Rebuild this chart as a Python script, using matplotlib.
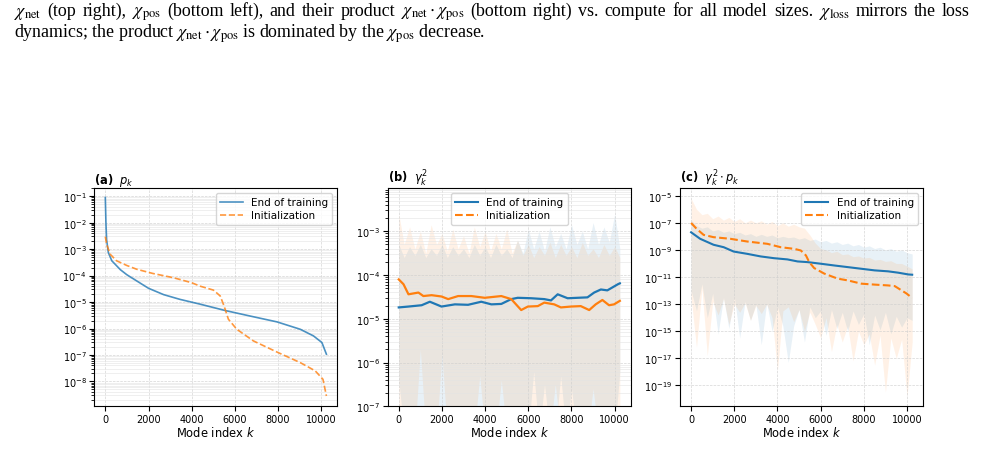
import numpy as np
import matplotlib

matplotlib.use("Agg")

import matplotlib.pyplot as plt
from matplotlib.lines import Line2D

# ---- panel (a): p_k  (log10 values)
a_train_k = [0, 30, 60, 140, 300, 700, 1000, 1450, 2000, 2700, 3460, 4390, 5550, 6710, 7950, 9030, 9640, 10030, 10239]
a_train_log = [-1.05, -2.05, -2.65, -3.13, -3.44, -3.78, -3.97, -4.20, -4.48, -4.72, -4.90, -5.08, -5.32, -5.53, -5.75, -6.03, -6.28, -6.53, -6.97]
a_init_k = [0, 60, 220, 520, 1000, 1450, 2200, 3150, 4000, 4390, 5010, 5320, 5500, 5700, 6090, 6860, 7950, 9030, 9720, 10080, 10239]
a_init_log = [-2.53, -2.81, -3.19, -3.44, -3.62, -3.76, -3.92, -4.08, -4.27, -4.40, -4.55, -4.77, -5.15, -5.65, -6.03, -6.47, -6.89, -7.29, -7.60, -7.92, -8.55]

# sample positions used for the shaded bands of (b) and (c)
band_k = list(range(0, 10001, 250)) + [10239]

# ---- panel (b): gamma_k^2
b_train_k = [0, 450, 1060, 1440, 1980, 2600, 3210, 3820, 4290, 4750, 5210, 5510, 6130, 6740, 7050, 7360, 7820, 8280, 8740, 9050, 9360, 9660, 10150, 10239]
b_train_log = [-4.74, -4.72, -4.69, -4.61, -4.72, -4.67, -4.68, -4.61, -4.67, -4.66, -4.55, -4.52, -4.53, -4.55, -4.58, -4.44, -4.53, -4.52, -4.51, -4.40, -4.33, -4.35, -4.21, -4.19]
b_init_k = [0, 220, 450, 680, 910, 1140, 1520, 1980, 2290, 2750, 3360, 3980, 4750, 5210, 5670, 5980, 6440, 6740, 7200, 7510, 7970, 8430, 8820, 9120, 9430, 9740, 9970, 10239]
b_init_log = [-4.10, -4.21, -4.44, -4.42, -4.40, -4.48, -4.46, -4.49, -4.55, -4.48, -4.48, -4.52, -4.48, -4.55, -4.80, -4.72, -4.71, -4.63, -4.67, -4.74, -4.72, -4.71, -4.80, -4.67, -4.57, -4.69, -4.67, -4.59]

b_train_hi = [-3.30, -3.60, -3.35, -3.55, -3.30, -3.60, -3.40, -3.55, -3.30, -3.60,
              -3.35, -3.55, -3.40, -3.60, -3.30, -3.55, -3.35, -3.60, -3.30, -3.55,
              -3.40, -3.60, -3.20, -3.50, -2.95, -3.40, -3.00, -3.45, -2.90, -3.35,
              -3.05, -3.40, -2.85, -3.30, -3.00, -3.40, -2.80, -3.30, -2.90, -3.25,
              -2.60, -3.40]
b_train_lo = [-6.40, -7.60, -7.60, -7.60, -7.60, -7.60, -7.60, -7.60, -7.60, -7.60,
              -7.60, -7.60, -7.60, -7.60, -7.60, -7.60, -7.60, -7.60, -7.60, -7.60,
              -7.60, -7.60, -7.60, -7.60, -7.60, -6.20, -7.60, -6.50, -7.60, -7.60,
              -6.30, -7.60, -6.60, -7.60, -7.60, -7.60, -7.60, -7.60, -7.60, -7.60,
              -7.60, -6.20]
b_init_hi = [-2.60, -3.30, -2.90, -3.40, -3.00, -3.50, -2.85, -3.30, -3.05, -3.45,
             -2.95, -3.40, -3.10, -3.50, -2.90, -3.35, -3.00, -3.45, -3.05, -3.40,
             -2.95, -3.50, -3.20, -3.55, -3.30, -3.60, -3.35, -3.55, -3.25, -3.60,
             -3.30, -3.55, -3.35, -3.60, -3.25, -3.55, -3.40, -3.60, -3.30, -3.55,
             -3.35, -3.60]
b_init_lo = [-7.60, -7.60, -7.60, -7.60, -5.70, -7.60, -7.60, -7.60, -5.80, -7.60,
             -7.60, -7.60, -7.60, -7.60, -7.60, -6.30, -7.60, -7.60, -7.60, -6.40,
             -7.60, -7.60, -7.60, -7.60, -7.60, -7.60, -7.60, -7.60, -7.60, -6.50,
             -7.60, -7.60, -7.60, -7.60, -7.60, -7.60, -6.60, -7.60, -7.60, -7.60,
             -7.60, -7.60]

# ---- panel (c): gamma_k^2 * p_k
c_train_k = [0, 420, 1040, 1510, 1970, 2600, 3220, 3840, 4460, 4930, 5390, 6010, 6640, 7260, 7880, 8500, 9120, 9590, 10060, 10239]
c_train_log = [-7.70, -8.18, -8.62, -8.80, -9.12, -9.29, -9.48, -9.61, -9.70, -9.85, -9.90, -10.02, -10.15, -10.27, -10.39, -10.51, -10.58, -10.68, -10.81, -10.83]
c_init_k = [0, 260, 580, 1040, 1820, 2600, 3530, 4150, 4770, 5080, 5320, 5470, 5700, 6170, 6790, 7260, 7880, 8500, 9120, 9430, 9740, 9980, 10239]
c_init_log = [-7.01, -7.45, -7.89, -8.06, -8.18, -8.38, -8.55, -8.80, -8.92, -9.04, -9.41, -9.90, -10.34, -10.75, -11.12, -11.25, -11.49, -11.56, -11.62, -11.67, -11.98, -12.22, -12.55]

c_train_hi = [-6.80, -7.20, -7.40, -7.30, -7.60, -7.50, -7.70, -7.60, -7.80, -7.70,
              -7.90, -7.80, -8.00, -7.85, -8.00, -7.90, -8.10, -8.00, -8.10, -8.05,
              -8.20, -8.10, -8.30, -8.20, -8.40, -8.30, -8.50, -8.40, -8.60, -8.50,
              -8.70, -8.60, -8.80, -8.70, -8.90, -8.80, -9.00, -8.90, -9.10, -9.00,
              -9.20, -9.30]
c_train_lo = [-12.0, -13.5, -11.5, -14.0, -12.2, -15.2, -12.5, -14.8, -12.4, -15.5,
              -12.8, -14.2, -13.0, -16.0, -12.9, -15.0, -13.2, -14.6, -17.3, -14.6,
              -13.4, -15.8, -13.2, -14.0, -13.5, -15.3, -13.4, -14.8, -13.6, -15.0,
              -13.5, -14.5, -13.7, -16.0, -13.8, -14.9, -13.6, -15.2, -13.9, -14.7,
              -14.0, -14.2]
c_init_hi = [-5.20, -6.00, -6.40, -6.30, -6.70, -6.50, -6.80, -6.60, -6.90, -6.70,
             -7.00, -6.80, -7.00, -6.85, -7.10, -6.90, -7.20, -7.00, -7.25, -7.10,
             -7.30, -7.40, -7.90, -8.50, -8.90, -9.00, -9.20, -9.10, -9.35, -9.30,
             -9.50, -9.45, -9.60, -9.55, -9.75, -9.70, -9.85, -9.80, -10.0, -10.0,
             -10.2, -10.4]
c_init_lo = [-12.5, -16.2, -11.8, -16.8, -12.8, -13.8, -12.6, -14.5, -13.0, -13.6,
             -12.9, -14.2, -13.1, -13.7, -13.0, -14.0, -17.9, -13.5, -13.2, -14.3,
             -13.4, -15.0, -13.6, -14.5, -15.5, -14.0, -16.5, -14.5, -15.8, -14.6,
             -17.2, -15.0, -16.0, -15.2, -17.5, -15.3, -19.5, -15.5, -17.0, -15.6,
             -19.8, -15.8]

caption = [r"$\chi_\mathrm{net}$ (top right), $\chi_\mathrm{pos}$ (bottom left), and their product $\chi_\mathrm{net}\cdot\chi_\mathrm{pos}$ (bottom right) vs. compute for all model sizes. $\chi_\mathrm{loss}$ mirrors the loss",
           r"dynamics; the product $\chi_\mathrm{net}\cdot\chi_\mathrm{pos}$ is dominated by the $\chi_\mathrm{pos}$ decrease."]

C0, C1 = "#1f77b4", "#ff7f0e"
xticks = [0, 2000, 4000, 6000, 8000, 10000]


def pw(v):
    return 10.0 ** np.asarray(v)


def style(ax, title):
    ax.set_yscale("log")
    ax.set_xlim(-512, 10751)
    ax.set_xticks(xticks)
    ax.set_xlabel("Mode index $k$", fontsize=8.3, labelpad=1)
    ax.tick_params(labelsize=7, pad=2)
    ax.set_title(title, loc="left", fontsize=8.3, pad=3)
    ax.grid(True, which="major", ls="--", lw=0.5, color="#cccccc", alpha=0.8)


fig = plt.figure(figsize=(9.85, 4.64), dpi=100)
W, H = 985.0, 464.0
cap_kw = dict(fontsize=12.9, family="Liberation Serif", math_fontfamily="stix", va="baseline")

# first caption line is justified between x=14 and x=970 px
renderer = fig.canvas.get_renderer()
words = caption[0].split(" ")
texts = [fig.text(0, 1 - 16 / H, wd, **cap_kw) for wd in words]
widths = [t.get_window_extent(renderer).width for t in texts]
gap = (970 - 14 - sum(widths)) / (len(words) - 1)
x = 14.0
for t, wdt in zip(texts, widths):
    t.set_x(x / W)
    x += wdt + gap
fig.text(14 / W, 1 - 37.5 / H, caption[1], **cap_kw)

w, h, bot = 0.2469, 0.4705, 0.1222
ax_a = fig.add_axes([0.0957, bot, w, h])
ax_b = fig.add_axes([0.3936, bot, w, h])
ax_c = fig.add_axes([0.6904, bot, w, h])

leg_kw = dict(fontsize=7.5, handlelength=2.2, borderpad=0.4, labelspacing=0.3)

# (a)
ax_a.plot(a_train_k, pw(a_train_log), color=C0, lw=1.2, alpha=0.8, label="End of training")
ax_a.plot(a_init_k, pw(a_init_log), color=C1, lw=1.2, alpha=0.8, ls="--", label="Initialization")
style(ax_a, r"$\bf{(a)}$  $p_k$")
ax_a.set_ylim(10 ** -8.94, 10 ** -0.69)
ax_a.grid(True, which="minor", ls="-", lw=0.4, color="#e4e4e4")
ax_a.legend(loc="upper right", **leg_kw)

# (b)
ax_b.fill_between(band_k, pw(b_train_lo), pw(b_train_hi), color=C0, alpha=0.1, lw=0)
ax_b.fill_between(band_k, pw(b_init_lo), pw(b_init_hi), color=C1, alpha=0.1, lw=0)
ax_b.plot(b_train_k, pw(b_train_log), color=C0, lw=1.6)
ax_b.plot(b_init_k, pw(b_init_log), color=C1, lw=1.6)
style(ax_b, r"$\bf{(b)}$  $\gamma_k^2$")
ax_b.set_ylim(1e-7, 10 ** -2.01)
ax_b.grid(True, which="minor", ls="-", lw=0.4, color="#e4e4e4")
handles = [Line2D([], [], color=C0, lw=1.5), Line2D([], [], color=C1, lw=1.5, ls="--")]
ax_b.legend(handles, ["End of training", "Initialization"], loc="upper center", **leg_kw)

# (c)
ax_c.fill_between(band_k, pw(c_train_lo), pw(c_train_hi), color=C0, alpha=0.1, lw=0)
ax_c.fill_between(band_k, pw(c_init_lo), pw(c_init_hi), color=C1, alpha=0.1, lw=0)
ax_c.plot(c_train_k, pw(c_train_log), color=C0, lw=1.5, label="End of training")
ax_c.plot(c_init_k, pw(c_init_log), color=C1, lw=1.5, ls="--", label="Initialization")
style(ax_c, r"$\bf{(c)}$  $\gamma_k^2 \cdot p_k$")
ax_c.set_ylim(10 ** -20.54, 10 ** -4.43)
ax_c.set_yticks([10.0 ** e for e in range(-5, -20, -2)])
ax_c.yaxis.set_minor_locator(matplotlib.ticker.NullLocator())
ax_c.legend(loc="upper right", **leg_kw)

fig.savefig("out.png", dpi=100)
